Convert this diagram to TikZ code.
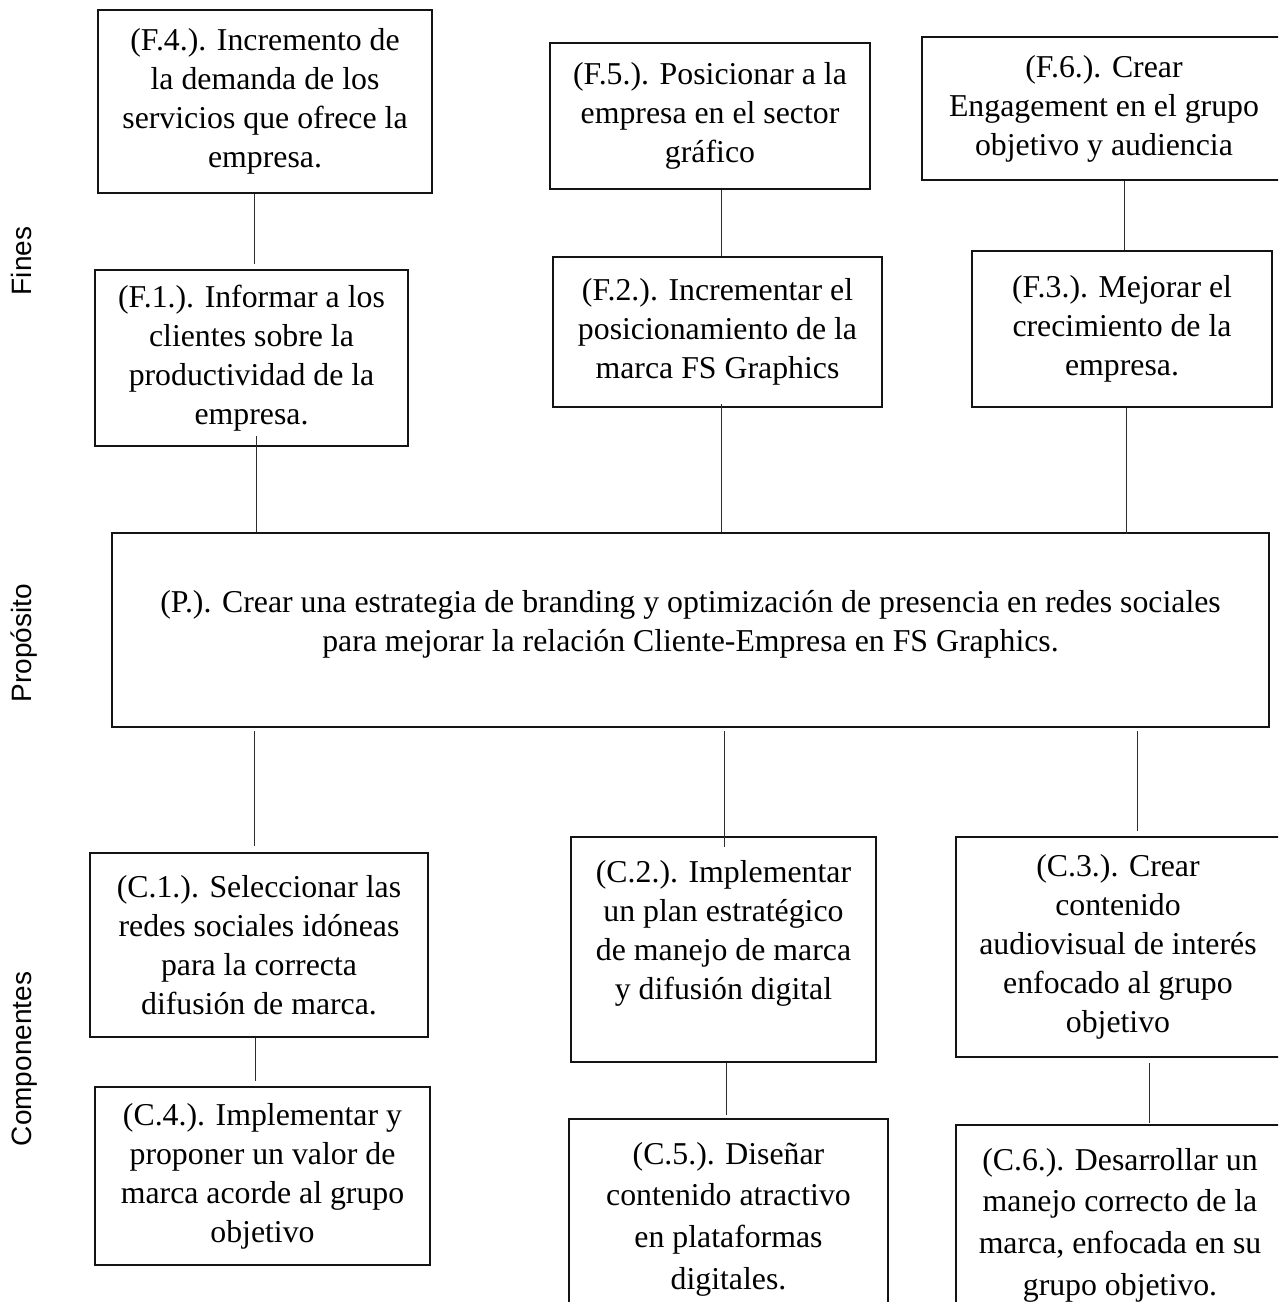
\documentclass[tikz,border=0pt]{standalone}
\usepackage{fontspec}
\setmainfont{Liberation Serif}
\newfontfamily\sidefont{Liberation Sans}
\usetikzlibrary{calc}
\definecolor{boxline}{RGB}{20, 20, 20}
\definecolor{linkline}{RGB}{45, 45, 45}

\begin{document}
\begin{tikzpicture}[x=1pt, y=-1pt,
    box/.style={draw=boxline, line width=2.2pt, align=center, inner sep=0pt,
                font=\fontsize{31.8pt}{39pt}\selectfont},
    loose/.style={font=\fontsize{31.8pt}{41.7pt}\selectfont},
    link/.style={draw=linkline, line width=1pt},
    side/.style={rotate=90, anchor=base, font=\sidefont\fontsize{28pt}{30pt}\selectfont}]
    \useasboundingbox (0,0) rectangle (1278,1302);
    \clip (0,0) rectangle (1278,1302);
    % Row labels
    \node[side] (fines)  at (31, 261) {Fines};
    \node[side] (prop)   at (31, 643) {Propósito};
    \node[side] (comp)   at (31,1059) {Componentes};
    % Fines, upper row
    \node[box, minimum width=334pt, minimum height=183pt] (F4) at ( 265, 101.5)
        {(F.4.). Incremento de\\la demanda de los\\servicios que ofrece la\\empresa.};
    \node[box, minimum width=320pt, minimum height=146pt] (F5) at ( 710, 116)
        {(F.5.). Posicionar a la\\empresa en el sector\\gráfico};
    \node[box, minimum width=364pt, minimum height=143pt] (F6) at (1104, 108.5)
        {(F.6.). Crear\\Engagement en el grupo\\objetivo y audiencia};
    % Fines, lower row
    \node[box, minimum width=313pt, minimum height=176pt] (F1) at ( 251.5, 358)
        {(F.1.). Informar a los\\clientes sobre la\\productividad de la\\empresa.};
    \node[box, minimum width=329pt, minimum height=150pt] (F2) at ( 717.5, 332)
        {(F.2.). Incrementar el\\posicionamiento de la\\marca FS Graphics};
    \node[box, minimum width=300pt, minimum height=156pt] (F3) at (1122, 329)
        {(F.3.). Mejorar el\\crecimiento de la\\empresa.};
    % Proposito
    \node[box, minimum width=1157pt, minimum height=194pt] (P) at (690.5, 630)
        {(P.). Crear una estrategia de branding y optimización de presencia en redes sociales\\
         para mejorar la relación Cliente-Empresa en FS Graphics.\\[-21pt]\mbox{}};
    % Componentes, upper row
    \node[box, minimum width=338pt, minimum height=184pt] (C1) at ( 259, 945)
        {(C.1.). Seleccionar las\\redes sociales idóneas\\para la correcta\\difusión de marca.};
    \node[box, minimum width=305pt, minimum height=225pt] (C2) at ( 723.5, 949.5)
        {(C.2.). Implementar\\un plan estratégico\\de manejo de marca\\y difusión digital\\\mbox{}};
    \node[box, minimum width=324pt, minimum height=220pt] (C3) at (1118, 947)
        {(C.3.). Crear\\contenido\\audiovisual de interés\\enfocado al grupo\\objetivo};
    % Componentes, lower row
    \node[box, minimum width=335pt, minimum height=178pt] (C4) at ( 262.5,1176)
        {(C.4.). Implementar y\\proponer un valor de\\marca acorde al grupo\\objetivo};
    \node[box, loose, minimum width=319pt, minimum height=200pt] (C5) at ( 728.5,1219)
        {(C.5.). Diseñar\\contenido atractivo\\en plataformas\\digitales.};
    \node[box, loose, minimum width=328pt, minimum height=200pt] (C6) at (1120, 1225)
        {(C.6.). Desarrollar un\\manejo correcto de la\\marca, enfocada en su\\grupo objetivo.};
    % Links, left column
    \draw[link] ($(F4.south -| F1.north)+(2.5,0)$) -- ($(F1.north)+(2.5,-5)$);
    \draw[link] ($(F1.south)+(4.5,-11)$)           -- ($(P.north -| F1.south)+(4.5,0)$);
    \draw[link] ($(P.south -| C1.north)+(-5,3)$)   -- ($(C1.north)+(-5,-6)$);
    \draw[link] ($(C1.south)+(-4,0)$)              -- ($(C4.north)+(-7.5,-5)$);
    % Links, middle column
    \draw[link] ($(F5.south -| F2.north)+(3.5,0)$) -- ($(F2.north)+(3.5,0)$);
    \draw[link] ($(F2.south)+(3.5,-4)$)            -- ($(P.north -| F2.south)+(3.5,0)$);
    \draw[link] ($(P.south -| C2.north)+(0.5,3)$)  -- ($(C2.north)+(0.5,11)$);
    \draw[link] ($(C2.south -| C5.north)+(-2.5,0)$) -- ($(C5.north)+(-2.5,-3)$);
    % Links, right column
    \draw[link] ($(F6.south -| F3.north)+(2,0)$)   -- ($(F3.north)+(2,0)$);
    \draw[link] ($(F3.south)+(4,0)$)               -- ($(P.north -| F3.south)+(4,2)$);
    \draw[link] ($(P.south -| C3.north)+(19,3)$)   -- ($(C3.north)+(19,-5)$);
    \draw[link] ($(C3.south)+(31,5)$)              -- ($(C6.north)+(29,-1)$);
\end{tikzpicture}
\end{document}
